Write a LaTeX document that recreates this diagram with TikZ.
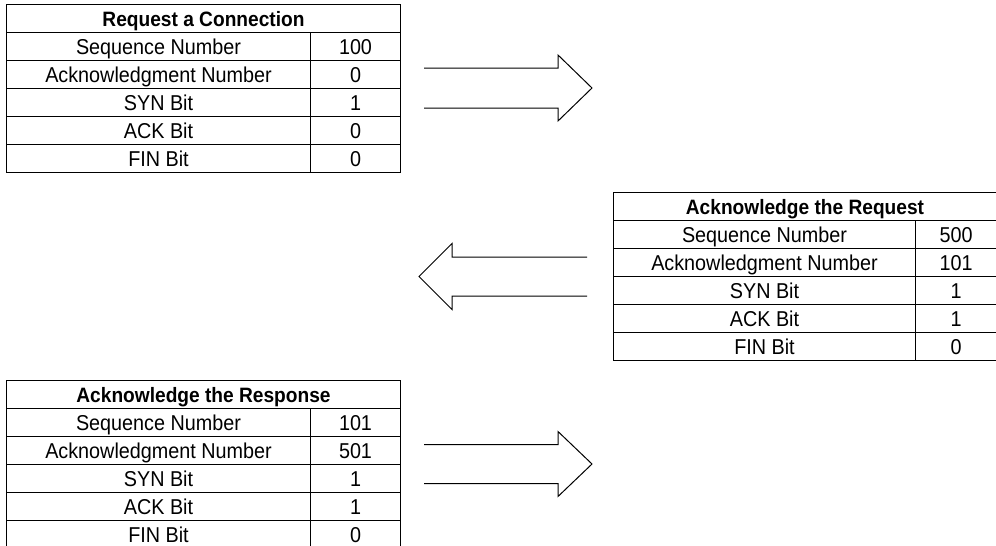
\documentclass[tikz,border=0pt]{standalone}
\usepackage{fontspec}
\setmainfont{Liberation Sans}[FakeStretch=0.92]
\tikzset{
  cell/.style={draw, line width=1pt, inner sep=0pt, minimum height=28pt, anchor=north west,
    text height=15pt, text depth=-1pt,
    font=\fontsize{21.5}{24}\selectfont},
  hdr/.style={cell, font=\fontsize{20.8}{24}\selectfont\bfseries},
  bigarrow/.style={draw, line width=1pt, line join=miter}
}
% #1 name, #2 x, #3 y, #4 label width, #5 value width, #6 title, #7 label/value pairs
\newcommand\segtable[7]{%
  \node[hdr, minimum width={(#4+#5)*1pt}] (#1-h) at (#2,#3) {#6};
  \foreach \lab/\val [count=\i] in {#7}{%
    \node[cell, minimum width={#4*1pt}] (#1-l\i) at ({#2},{#3+28*\i}) {\lab};
    \node[cell, minimum width={#5*1pt}] (#1-v\i) at ({#2+#4},{#3+28*\i}) {\val};
  }%
}
% block arrow: #1 name, #2 tail x, #3 base x, #4 tip x, #5 centre y, #6 shaft half, #7 head half
\newcommand\blockarrow[7]{%
  \coordinate (#1-tip) at (#4,#5);
  \coordinate (#1-tailtop) at (#2,{#5-#6});
  \coordinate (#1-tailbot) at (#2,{#5+#6});
  \draw[bigarrow] (#1-tailtop) -- (#3,{#5-#6}) -- (#3,{#5-#7}) -- (#1-tip)
     -- (#3,{#5+#7}) -- (#3,{#5+#6}) -- (#1-tailbot);
}
\begin{document}
\begin{tikzpicture}[x=1pt,y=-1pt]
\useasboundingbox (0,0) rectangle (996,546);
\clip (0,0) rectangle (996,546);
\segtable{ta}{6}{4}{304}{90}{Request a Connection}
  {Sequence Number/100, Acknowledgment Number/0, SYN Bit/1, ACK Bit/0, FIN Bit/0}
\segtable{tb}{613}{192}{302}{81}{Acknowledge the Request}
  {Sequence Number/500, Acknowledgment Number/101, SYN Bit/1, ACK Bit/1, FIN Bit/0}
\segtable{tc}{6}{380}{304}{90}{Acknowledge the Response}
  {Sequence Number/101, Acknowledgment Number/501, SYN Bit/1, ACK Bit/1, FIN Bit/0}
\blockarrow{a1}{424}{558}{592}{88}{20}{33}
\blockarrow{a2}{587}{452}{419}{276.5}{19.5}{33}
\blockarrow{a3}{424}{558}{592}{464}{19.5}{32.5}
\end{tikzpicture}
\end{document}
